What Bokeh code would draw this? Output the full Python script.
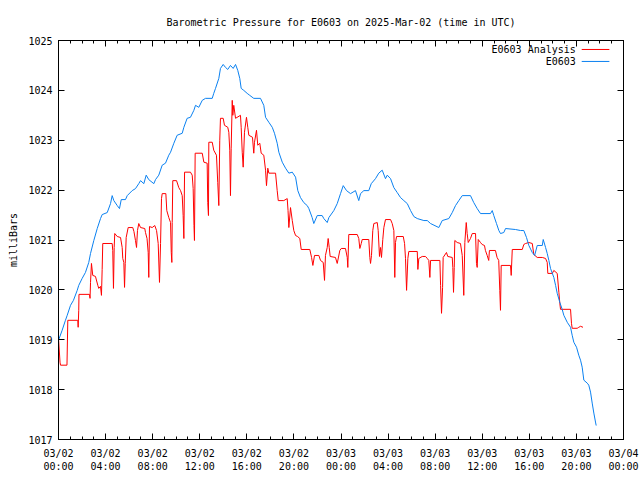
from bokeh.plotting import figure
from bokeh.models import Range1d, FixedTicker, LinearAxis, Label, Arrow
from bokeh.embed import file_html
from bokeh.resources import INLINE

title_text = "Barometric Pressure for E0603 on 2025-Mar-02 (time in UTC)"
tick_hours = [0, 4, 8, 12, 16, 20, 24, 28, 32, 36, 40, 44, 48]
tick_dates = ["03/02"] * 6 + ["03/03"] * 6 + ["03/04"]
tick_times = ["00:00", "04:00", "08:00", "12:00", "16:00", "20:00"] * 2 + ["00:00"]
minor_hours = list(range(0, 49))
y_ticks = [1017, 1018, 1019, 1020, 1021, 1022, 1023, 1024, 1025]

series_names = ["E0603 Analysis", "E0603"]

# E0603 (observed), hours since 03/02 00:00 UTC
blue_hours = [0.00, 0.31, 0.59, 0.74, 1.02, 1.27, 1.59, 1.72, 2.01, 2.29, 2.57, 2.72, 3.00, 3.29, 3.57, 3.71,
              4.14, 4.42, 4.56, 4.70, 4.99, 5.18, 5.33, 5.69, 5.84, 6.26, 6.54, 6.82, 6.97, 7.25, 7.45, 7.67,
              8.10, 8.24, 8.52, 8.81, 9.09, 9.37, 9.52, 9.80, 10.08, 10.51, 10.65, 10.93, 11.21, 11.50, 11.64,
              11.92, 12.21, 12.49, 13.06, 13.19, 13.34, 13.62, 13.76, 13.99, 14.19, 14.38, 14.61, 14.84, 15.04,
              15.23, 15.40, 15.52, 15.74, 16.03, 16.25, 16.59, 17.16, 17.44, 17.59, 17.87, 18.16, 18.35, 18.58,
              18.72, 19.01, 19.29, 19.57, 19.86, 20.14, 20.33, 20.56, 20.84, 21.13, 21.27, 21.55, 21.69, 21.98,
              22.40, 22.54, 22.83, 22.97, 23.39, 23.68, 23.96, 24.19, 24.47, 24.81, 25.23, 25.51, 25.66, 25.94,
              26.36, 26.57, 26.93, 27.21, 27.50, 27.78, 27.93, 28.21, 28.49, 28.78, 29.06, 29.34, 29.63, 29.91,
              30.19, 30.48, 31.04, 31.33, 31.61, 32.31, 32.60, 33.16, 33.45, 33.73, 34.01, 34.30, 35.00, 35.28,
              35.57, 35.85, 36.70, 36.85, 36.98, 37.21, 37.41, 37.55, 37.83, 37.98, 38.83, 39.25, 39.53, 39.76,
              39.96, 40.25, 40.45, 40.67, 41.10, 41.18, 41.38, 41.52, 41.66, 41.80, 42.08, 42.23, 42.37, 42.59,
              42.79, 42.93, 43.22, 43.50, 43.64, 43.78, 44.01, 44.20, 44.35, 44.49, 44.63, 44.92, 45.05, 45.20,
              45.34, 45.48, 45.62, 45.68]
blue_mb = [1018.99, 1019.19, 1019.39, 1019.49, 1019.69, 1019.79, 1019.99, 1020.09, 1020.23, 1020.35, 1020.55,
           1020.73, 1020.99, 1021.23, 1021.43, 1021.51, 1021.55, 1021.73, 1021.89, 1021.79, 1021.69, 1021.63,
           1021.81, 1021.81, 1021.89, 1021.99, 1022.03, 1022.13, 1022.19, 1022.13, 1022.30, 1022.21, 1022.13,
           1022.21, 1022.30, 1022.50, 1022.54, 1022.70, 1022.76, 1022.94, 1023.10, 1023.14, 1023.26, 1023.44,
           1023.46, 1023.60, 1023.70, 1023.66, 1023.80, 1023.84, 1023.84, 1023.94, 1024.04, 1024.24, 1024.44,
           1024.52, 1024.46, 1024.42, 1024.50, 1024.44, 1024.52, 1024.40, 1024.24, 1024.04, 1024.00, 1023.94,
           1023.90, 1023.84, 1023.84, 1023.70, 1023.46, 1023.36, 1023.26, 1023.14, 1022.94, 1022.76, 1022.56,
           1022.44, 1022.34, 1022.36, 1022.26, 1021.99, 1021.85, 1021.75, 1021.69, 1021.63, 1021.45, 1021.33,
           1021.49, 1021.49, 1021.43, 1021.35, 1021.45, 1021.59, 1021.73, 1021.93, 1022.09, 1021.99, 1021.93,
           1021.99, 1021.79, 1021.93, 1021.99, 1021.99, 1022.13, 1022.23, 1022.34, 1022.40, 1022.23, 1022.30,
           1022.23, 1022.05, 1021.95, 1021.85, 1021.79, 1021.73, 1021.59, 1021.47, 1021.43, 1021.39, 1021.39,
           1021.33, 1021.25, 1021.39, 1021.43, 1021.55, 1021.69, 1021.79, 1021.89, 1021.89, 1021.75, 1021.63,
           1021.53, 1021.53, 1021.59, 1021.49, 1021.33, 1021.19, 1021.13, 1021.15, 1021.23, 1021.21, 1021.19,
           1021.19, 1021.05, 1020.89, 1020.75, 1020.69, 1020.89, 1020.89, 1021.01, 1020.85, 1020.73, 1020.59,
           1020.43, 1020.25, 1020.09, 1019.93, 1019.75, 1019.61, 1019.49, 1019.35, 1019.25, 1019.09, 1018.95,
           1018.85, 1018.69, 1018.59, 1018.45, 1018.19, 1018.13, 1018.09, 1017.95, 1017.73, 1017.53, 1017.35,
           1017.28]

# E0603 Analysis
red_hours = [0.00, 0.13, 0.17, 0.72, 0.79, 1.64, 1.67, 1.72, 1.74, 2.63, 2.68, 2.72, 2.80, 2.91, 3.14, 3.34,
             3.42, 3.57, 3.65, 3.71, 3.76, 4.56, 4.61, 4.67, 4.73, 4.78, 4.99, 5.27, 5.41, 5.46, 5.55, 5.61,
             5.67, 5.75, 5.92, 6.31, 6.41, 6.54, 6.63, 6.71, 6.82, 6.97, 7.33, 7.39, 7.52, 7.62, 7.67, 7.73,
             7.96, 8.18, 8.33, 8.47, 8.58, 8.67, 8.75, 8.81, 9.12, 9.20, 9.37, 9.52, 9.58, 9.63, 9.66, 9.71,
             10.03, 10.22, 10.37, 10.51, 10.59, 10.65, 10.71, 11.21, 11.36, 11.44, 11.51, 11.55, 11.61, 12.21,
             12.35, 12.63, 12.68, 12.74, 12.77, 13.06, 13.19, 13.42, 13.53, 13.62, 13.70, 13.76, 13.99, 14.10,
             14.38, 14.47, 14.55, 14.61, 14.67, 14.76, 14.81, 14.89, 15.04, 15.46, 15.52, 15.61, 15.69, 15.80,
             15.97, 16.08, 16.17, 16.48, 16.59, 16.65, 16.82, 16.93, 17.10, 17.22, 17.44, 17.59, 17.67, 17.78,
             17.87, 18.44, 18.58, 18.67, 19.14, 19.43, 19.50, 19.57, 19.71, 19.86, 19.99, 20.14, 20.31, 20.50,
             20.62, 21.35, 21.50, 21.61, 21.75, 22.12, 22.26, 22.49, 22.60, 22.68, 22.83, 22.91, 23.00, 23.08,
             23.53, 23.68, 23.90, 24.02, 24.38, 24.53, 24.58, 24.66, 25.38, 25.51, 25.60, 25.72, 25.80, 26.36,
             26.45, 26.51, 26.59, 26.70, 26.79, 27.08, 27.16, 27.27, 27.36, 27.44, 27.55, 27.64, 27.78, 28.21,
             28.35, 28.49, 28.57, 28.63, 28.72, 29.29, 29.40, 29.48, 29.57, 29.68, 29.76, 30.48, 30.53, 30.61,
             30.90, 31.18, 31.33, 31.46, 31.55, 31.61, 32.40, 32.46, 32.54, 32.63, 32.68, 32.96, 33.07, 33.45,
             33.50, 33.56, 33.62, 33.67, 33.87, 34.15, 34.30, 34.43, 34.52, 34.64, 34.72, 34.81, 35.00, 35.15,
             35.43, 35.51, 35.57, 35.66, 35.85, 35.99, 36.19, 36.27, 36.42, 36.55, 36.61, 37.12, 37.26, 37.40,
             37.49, 37.55, 37.61, 38.40, 38.46, 38.55, 39.40, 39.53, 39.68, 39.96, 40.25, 40.38, 40.67, 41.10,
             41.38, 41.52, 41.57, 41.95, 42.08, 42.37, 42.51, 42.59, 42.65, 43.50, 43.58, 43.64, 44.07, 44.20,
             44.35, 44.56]
red_mb = [1019.03, 1018.55, 1018.49, 1018.49, 1019.39, 1019.39, 1019.25, 1019.59, 1019.91, 1019.91, 1019.83,
          1020.15, 1020.53, 1020.29, 1020.27, 1020.09, 1020.03, 1020.07, 1019.89, 1020.41, 1020.93, 1020.93,
          1020.79, 1020.03, 1020.85, 1021.13, 1021.07, 1021.05, 1020.85, 1020.63, 1020.55, 1020.05, 1020.53,
          1021.05, 1021.25, 1021.25, 1021.17, 1020.99, 1020.85, 1021.19, 1021.33, 1021.25, 1021.23, 1021.15,
          1021.03, 1020.75, 1020.25, 1021.27, 1021.25, 1021.29, 1021.19, 1020.93, 1020.15, 1020.93, 1021.83,
          1021.93, 1021.93, 1021.59, 1021.45, 1021.35, 1020.75, 1020.55, 1021.35, 1022.19, 1022.19, 1022.05,
          1021.99, 1021.89, 1021.49, 1021.03, 1022.36, 1022.36, 1022.30, 1022.03, 1021.29, 1020.99, 1022.74,
          1022.74, 1022.56, 1022.54, 1021.75, 1021.49, 1022.96, 1022.96, 1022.80, 1022.70, 1022.15, 1021.69,
          1023.00, 1023.44, 1023.44, 1023.30, 1023.26, 1023.16, 1022.80, 1021.89, 1022.84, 1023.80, 1023.50,
          1023.70, 1023.44, 1023.50, 1023.26, 1022.76, 1022.46, 1023.16, 1023.46, 1023.26, 1023.10, 1023.06,
          1022.74, 1022.96, 1023.20, 1022.90, 1022.94, 1022.74, 1022.70, 1022.40, 1022.09, 1022.44, 1022.34,
          1022.34, 1021.99, 1021.79, 1021.79, 1021.83, 1021.59, 1021.25, 1021.65, 1021.39, 1021.19, 1021.09,
          1021.07, 1021.03, 1020.81, 1020.81, 1020.65, 1020.49, 1020.69, 1020.69, 1020.59, 1020.55, 1020.19,
          1020.69, 1020.85, 1021.03, 1020.85, 1020.67, 1020.65, 1020.53, 1020.79, 1020.83, 1020.83, 1020.65,
          1020.45, 1021.11, 1021.11, 1021.03, 1020.83, 1020.93, 1021.01, 1021.01, 1020.65, 1020.53, 1020.69,
          1021.19, 1021.33, 1021.35, 1021.19, 1020.67, 1020.85, 1020.65, 1021.01, 1021.25, 1021.41, 1021.41,
          1021.33, 1021.19, 1020.25, 1020.95, 1021.07, 1021.07, 1020.93, 1020.63, 1019.99, 1020.63, 1020.77,
          1020.77, 1020.41, 1020.63, 1020.67, 1020.67, 1020.63, 1020.59, 1020.25, 1020.59, 1020.59, 1020.09,
          1019.53, 1020.05, 1020.65, 1020.75, 1020.67, 1020.65, 1020.45, 1019.95, 1020.45, 1020.99, 1020.95,
          1020.93, 1020.69, 1019.89, 1020.95, 1021.35, 1021.13, 1020.95, 1021.03, 1021.13, 1021.13, 1020.53,
          1020.45, 1021.01, 1020.95, 1020.91, 1020.89, 1020.79, 1020.69, 1020.59, 1020.79, 1020.79, 1020.65,
          1020.59, 1019.99, 1019.59, 1020.49, 1020.49, 1020.29, 1020.81, 1020.81, 1020.91, 1020.93, 1020.95,
          1020.93, 1020.71, 1020.65, 1020.65, 1020.63, 1020.55, 1020.33, 1020.33, 1020.39, 1020.33, 1019.95,
          1019.73, 1019.61, 1019.61, 1019.33, 1019.23, 1019.23, 1019.25, 1019.27, 1019.25]

FONT = "DejaVu Sans Mono"
RED = "#ff0000"
BLUE = "#0a80f0"

p = figure(width=640, height=480,
           x_range=Range1d(0, 48), y_range=Range1d(1017, 1025),
           output_backend="svg", toolbar_location=None,
           min_border_left=58, min_border_right=17, min_border_top=40, min_border_bottom=41)
p.background_fill_color = "white"
p.border_fill_color = "white"
p.outline_line_color = "black"
p.grid.visible = False

p.title.text = title_text
p.title.align = "center"
p.title.text_font = FONT
p.title.text_font_size = "10px"
p.title.text_font_style = "normal"
p.title.text_color = "black"
p.title.standoff = 25

x_overrides = {h: f"{d}\n{t}" for h, d, t in zip(tick_hours, tick_dates, tick_times)}

def style_axis(ax, show_labels):
    ax.axis_line_color = "black"
    ax.major_tick_line_color = "black"
    ax.minor_tick_line_color = "black"
    ax.major_tick_in = 6
    ax.major_tick_out = 0
    ax.minor_tick_in = 3
    ax.minor_tick_out = 0
    ax.major_label_text_font = FONT
    if show_labels:
        ax.major_label_text_font_size = "10px"
        ax.major_label_text_color = "black"
    else:
        ax.major_label_text_font_size = "0px"
        ax.major_label_text_color = None
        ax.major_label_standoff = 0

xb = p.xaxis[0]
xb.ticker = FixedTicker(ticks=tick_hours, minor_ticks=minor_hours)
xb.major_label_overrides = x_overrides
style_axis(xb, True)
xb.major_label_standoff = 8

yl = p.yaxis[0]
yl.ticker = FixedTicker(ticks=y_ticks, minor_ticks=[])
style_axis(yl, True)
yl.major_label_standoff = 6
yl.axis_label = "milliBars"
yl.axis_label_text_font = FONT
yl.axis_label_text_font_size = "10px"
yl.axis_label_text_font_style = "normal"
yl.axis_label_text_color = "black"
yl.axis_label_standoff = 6

xt = LinearAxis(ticker=FixedTicker(ticks=tick_hours, minor_ticks=minor_hours))
style_axis(xt, False)
p.add_layout(xt, "above")
yr = LinearAxis(ticker=FixedTicker(ticks=y_ticks, minor_ticks=[]))
style_axis(yr, False)
p.add_layout(yr, "right")

p.line(red_hours, red_mb, line_color=RED, line_width=1)
p.line(blue_hours, blue_mb, line_color=BLUE, line_width=1)

# key in the upper right corner: text then line sample
key_y = [1024.82, 1024.58]
for name, col, ky in zip(series_names, [RED, BLUE], key_y):
    p.add_layout(Label(x=43.95, y=ky, text=name, text_align="right", text_baseline="middle",
                       text_font=FONT, text_font_size="10px", text_color="black"))
    p.add_layout(Arrow(x_start=44.45, y_start=ky, x_end=46.8, y_end=ky, end=None,
                       line_color=col, line_width=1))

open("out.html", "w").write(file_html(p, INLINE))
